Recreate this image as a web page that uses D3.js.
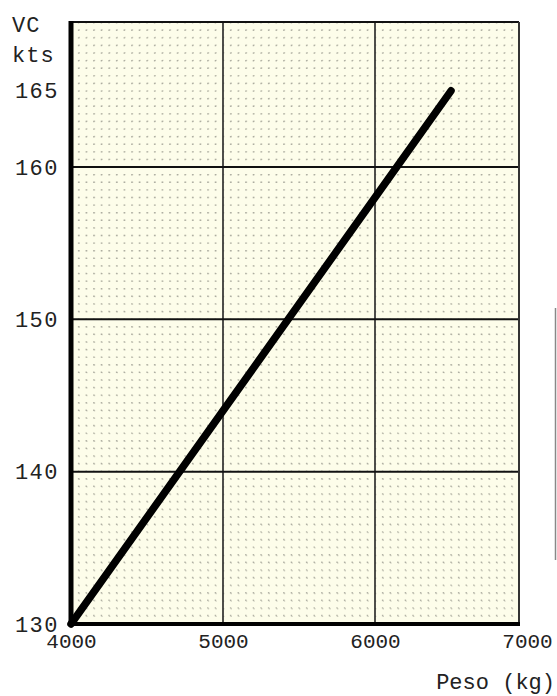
<!DOCTYPE html>
<html><head><meta charset="utf-8">
<script src="https://cdn.jsdelivr.net/npm/d3@7"></script>
<style>html,body{margin:0;padding:0;background:#fff;}svg{display:block;}</style>
</head><body>
<svg id="c" width="557" height="696"></svg>
<script>
// Data
const weightKg = [4000, 5000, 6000, 6500];
const vcKts    = [130, 144, 158, 165];
const xTicks = [4000, 5000, 6000, 7000];
const yTicks = [130, 140, 150, 160, 165];
const xGrid = [5000, 6000];
const yGrid = [140, 150, 160];
const yTitle = ["VC", "kts"];
const xTitle = "Peso (kg)";

const svg = d3.select("#c");
const font = "'Liberation Mono', 'DejaVu Sans Mono', monospace";
const x = d3.scaleLinear().domain([4000, 7000]).range([71, 527]);
const y = d3.scaleLinear().domain([130, 160]).range([624, 167]);
const L = 71, R = 519, T = 22, B = 624;

svg.append("rect").attr("x", L).attr("y", T).attr("width", R - L).attr("height", B - T)
  .attr("fill", "#fdfdea");

// minor dotted grid every 50 kg / 0.5 kt
const minorX = d3.range(4050, 6950, 50).filter(v => v % 1000 !== 0);
const minorY = d3.range(130.5, 169.5, 0.5).filter(v => v % 10 !== 0);
const g = svg.append("g");
g.selectAll("line.mx").data(minorX).join("line")
  .attr("x1", d => x(d)).attr("x2", d => x(d)).attr("y1", T).attr("y2", B)
  .attr("stroke", "#8a8a80").attr("stroke-width", 1.4).attr("stroke-dasharray", "1.4,6.2")
  .attr("opacity", 0.6);
g.selectAll("line.my").data(minorY).join("line")
  .attr("y1", d => y(d)).attr("y2", d => y(d)).attr("x1", L).attr("x2", R)
  .attr("stroke", "#8a8a80").attr("stroke-width", 1.4).attr("stroke-dasharray", "1.4,6.2")
  .attr("opacity", 0.35);

// major grid
svg.selectAll("line.gx").data(xGrid).join("line")
  .attr("x1", d => x(d)).attr("x2", d => x(d)).attr("y1", T).attr("y2", B)
  .attr("stroke", "#222").attr("stroke-width", 1.6);
svg.selectAll("line.gy").data(yGrid).join("line")
  .attr("y1", d => y(d)).attr("y2", d => y(d)).attr("x1", L).attr("x2", R)
  .attr("stroke", "#111").attr("stroke-width", 2);

// frame
svg.append("line").attr("x1", L).attr("x2", R).attr("y1", T).attr("y2", T).attr("stroke", "#111").attr("stroke-width", 2);
svg.append("line").attr("x1", R).attr("x2", R).attr("y1", T).attr("y2", B).attr("stroke", "#333").attr("stroke-width", 2);
svg.append("line").attr("x1", L - 1).attr("x2", R + 1).attr("y1", B).attr("y2", B).attr("stroke", "#000").attr("stroke-width", 4);
svg.append("line").attr("x1", L).attr("x2", L).attr("y1", T - 1).attr("y2", B + 2).attr("stroke", "#000").attr("stroke-width", 5);

// data line
const pts = weightKg.map((w, i) => [w, vcKts[i]]);
svg.append("path").datum(pts)
  .attr("d", d3.line().x(d => x(d[0])).y(d => y(d[1])))
  .attr("fill", "none").attr("stroke", "#000").attr("stroke-width", 7.5)
  .attr("stroke-linecap", "round");

// axes (tick labels only)
const xa = svg.append("g").attr("transform", `translate(0,${B})`)
  .call(d3.axisBottom(x).tickValues(xTicks).tickSize(0).tickPadding(9).tickFormat(d3.format("d")));
xa.select(".domain").remove();
xa.selectAll("text").attr("font-family", font).attr("font-size", 21).attr("fill", "#222");

const ya = svg.append("g").attr("transform", `translate(${L},0)`)
  .call(d3.axisLeft(y).tickValues(yTicks).tickSize(0).tickPadding(12).tickFormat(d3.format("d")));
ya.select(".domain").remove();
ya.selectAll("text").attr("font-family", font).attr("font-size", 22).attr("fill", "#222")
  .attr("letter-spacing", 1.5);

// titles
svg.selectAll("text.yt").data(yTitle).join("text")
  .attr("x", 12).attr("y", (d, i) => 32 + i * 30)
  .attr("font-family", font).attr("font-size", 22).attr("fill", "#222").attr("letter-spacing", 1)
  .text(d => d);
svg.append("text").attr("x", 555).attr("y", 689).attr("text-anchor", "end")
  .attr("font-family", font).attr("font-size", 22).attr("fill", "#222").text(xTitle);

// scan edge artifact at right
svg.append("line").attr("x1", 555.5).attr("x2", 555.5).attr("y1", 308).attr("y2", 560)
  .attr("stroke", "#888").attr("stroke-width", 1.5);
</script>
</body></html>
